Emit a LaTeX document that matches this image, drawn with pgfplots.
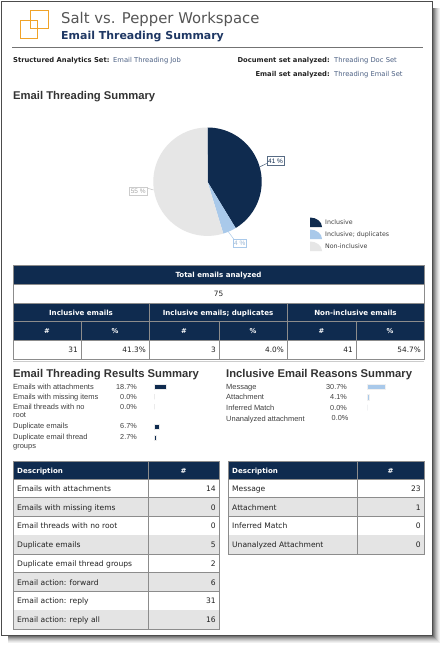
\documentclass[border=0pt]{standalone}
\usepackage{pgfplots}
\pgfplotsset{compat=1.18}
\usepackage{fontspec}
\setmainfont{Liberation Sans}
\newfontfamily\tah{DejaVu Sans}
\definecolor{navy}{HTML}{0F2B4F}
\definecolor{lblue}{HTML}{A9C9EA}
\definecolor{lgray}{HTML}{E6E6E6}
\definecolor{rowgray}{HTML}{E4E4E4}
\definecolor{gridc}{HTML}{8C8C8C}
\definecolor{orng}{HTML}{F0A328}
\definecolor{titlegray}{HTML}{555555}
\definecolor{subnavy}{HTML}{1F3864}
\definecolor{txt}{HTML}{222222}
\newcommand{\fs}[1]{\fontsize{#1}{#1}\selectfont}
% pie data (percent)
\def\pInc{41.3}
\def\pDup{4.0}
\def\pNon{54.7}
\begin{document}
\begin{tikzpicture}[x=1bp,y=1bp]
\path[use as bounding box] (0,0) rectangle (444,-647);
\coordinate (pc) at (207.5,-181.7);
\coordinate (b1) at (154.5,-445);
\coordinate (b2) at (367,-445);
% shadow
\foreach \i/\c in {0/55,1/45,2/35,3/26,4/18,5/11,6/6}{
  \fill[black!\c] (433+\i,-8) rectangle (434+\i,-636-\i);
  \fill[black!\c] (8,-636-\i) rectangle (434+\i,-637-\i);
}
% page frame
\fill[white] (1.5,-1.5) rectangle (432.5,-635.5);
\draw[black!70,line width=1.4bp] (1.5,-1.5) rectangle (432.5,-635.5);
% logo
\draw[orng,line width=1.3bp] (30.7,-10.7) rectangle (48.3,-28.3);
\draw[orng,line width=1.3bp] (20.7,-20.7) rectangle (37.3,-38.3);
% titles
\node[anchor=base west,inner sep=0,text=titlegray] at (61,-24) {\tah\fs{14.9}Salt vs. Pepper Workspace};
\node[anchor=base west,inner sep=0,text=subnavy] at (61,-40) {\tah\bfseries\fs{11}Email Threading Summary};
\draw[black!55,line width=0.8bp] (12,-47.5) -- (423,-47.5);
% info rows
\node[anchor=base west,inner sep=0,text=txt] at (13,-63) {\tah\bfseries\fs{6.8}Structured Analytics Set:};
\node[anchor=base west,inner sep=0,text=subnavy!80] at (113,-63) {\tah\fs{6.8}Email Threading Job};
\node[anchor=base east,inner sep=0,text=txt] at (330,-63) {\tah\bfseries\fs{6.8}Document set analyzed:};
\node[anchor=base west,inner sep=0,text=subnavy!80] at (334,-63) {\tah\fs{6.8}Threading Doc Set};
\node[anchor=base east,inner sep=0,text=txt] at (330,-77) {\tah\bfseries\fs{6.8}Email set analyzed:};
\node[anchor=base west,inner sep=0,text=subnavy!80] at (334,-77) {\tah\fs{6.8}Threading Email Set};
% section title
\node[anchor=base west,inner sep=0,text=black!80] at (13,-100) {\bfseries\fs{11.3}Email Threading Summary};
% pie
\pgfmathsetmacro{\aA}{90-3.6*\pInc}
\pgfmathsetmacro{\aB}{\aA-3.6*\pDup}
\pgfmathsetmacro{\aC}{\aB-3.6*\pNon}
\begin{axis}[at={(pc)},anchor=center,scale only axis,width=108.4bp,height=108.4bp,
  xmin=-1,xmax=1,ymin=-1,ymax=1,hide axis,clip=false]
\addplot[fill=navy,draw=none,domain=90:\aA,samples=80] ({cos(x)},{sin(x)}) -- (0,0) -- cycle;
\addplot[fill=lblue,draw=none,domain=\aA:\aB,samples=20] ({cos(x)},{sin(x)}) -- (0,0) -- cycle;
\addplot[fill=lgray,draw=none,domain=\aB:\aC,samples=100] ({cos(x)},{sin(x)}) -- (0,0) -- cycle;
\end{axis}
% pie labels
\draw[navy!80,line width=0.5bp] (260,-166.7) -- (266.7,-163.5);
\node[draw=navy!70,line width=0.5bp,fill=white,inner sep=1.2bp,anchor=west,text=navy,minimum height=8.5bp] at (266.7,-161) {\fs{6.5}41 \%};
\draw[black!25,line width=0.5bp] (153.5,-190) -- (147,-188);
\node[draw=black!20,line width=0.5bp,fill=white,inner sep=1.2bp,anchor=east,text=black!35,minimum height=8.5bp] at (147,-191) {\fs{6.5}55 \%};
\draw[lblue,line width=0.5bp] (228.3,-231.7) -- (234,-239.5);
\node[draw=lblue,line width=0.5bp,fill=white,inner sep=1.2bp,anchor=west,text=lblue!90!black,minimum height=8.5bp] at (232.7,-243.3) {\fs{6.5}4 \%};
% pie legend
\foreach \yy/\c/\t in {-222/navy/Inclusive,-234/lblue/{Inclusive; duplicates},-246/lgray/Non-inclusive}{
  \fill[\c] (310,\yy-5) -- (310,\yy+4.5) arc (90:0:12 and 9.5) -- cycle;
  \node[anchor=base west,inner sep=0,text=black!75] at (325,\yy-2) {\tah\fs{6.3}\t};
}
% ===== Table 1 =====
\fill[navy] (13,-265) rectangle (424,-284);
\fill[white] (13,-284) rectangle (424,-303);
\fill[navy] (13,-303) rectangle (424,-340);
\fill[white] (13,-340) rectangle (424,-359);
\draw[gridc,line width=0.7bp] (13,-265) rectangle (424,-359);
\draw[gridc,line width=0.7bp] (13,-284) -- (424,-284) (13,-303) -- (424,-303) (13,-321.5) -- (424,-321.5) (13,-340) -- (424,-340);
\draw[gridc,line width=0.7bp] (149,-303) -- (149,-359) (287,-303) -- (287,-359);
\draw[gridc,line width=0.7bp] (81,-321.5) -- (81,-359) (219,-321.5) -- (219,-359) (356,-321.5) -- (356,-359);
\node[anchor=base,inner sep=0,text=white] at (218.5,-277) {\tah\bfseries\fs{7.1}Total emails analyzed};
\node[anchor=base,inner sep=0,text=txt] at (218.5,-296) {\tah\fs{7.4}75};
\node[anchor=base,inner sep=0,text=white] at (81,-315) {\tah\bfseries\fs{7.1}Inclusive emails};
\node[anchor=base,inner sep=0,text=white] at (218,-315) {\tah\bfseries\fs{7.1}Inclusive emails; duplicates};
\node[anchor=base,inner sep=0,text=white] at (355.5,-315) {\tah\bfseries\fs{7.1}Non-inclusive emails};
\foreach \cx in {47,184,321.5}{\node[anchor=base,inner sep=0,text=white] at (\cx,-333.5) {\tah\bfseries\fs{6.8}\#};}
\foreach \cx in {115,253,390}{\node[anchor=base,inner sep=0,text=white] at (\cx,-333.5) {\tah\bfseries\fs{6.8}\%};}
\foreach \rx/\t in {78/31,146/41.3\%,216/3,284/4.0\%,353/41,421/54.7\%}{
  \node[anchor=base east,inner sep=0,text=txt] at (\rx,-352.5) {\tah\fs{7.4}\t};}
% separator
\draw[black!20,line width=0.7bp] (13,-361) -- (424,-361);
% ===== Mini bar summaries =====
\node[anchor=base west,inner sep=0,text=black!80] at (13,-377.5) {\bfseries\fs{11.3}Email Threading Results Summary};
\node[anchor=base west,inner sep=0,text=black!80] at (226,-377.5) {\bfseries\fs{11.3}Inclusive Email Reasons Summary};
\foreach \yy/\t in {-389.5/Emails with attachments,-399.5/Emails with missing items,-409.5/Email threads with no,-417/root,-428.5/Duplicate emails,-439/Duplicate email thread,-448.5/groups}{
  \node[anchor=base west,inner sep=0,text=black!75] at (13,\yy) {\fs{7.5}\t};}
\foreach \yy/\t in {-389.5/18.7\%,-399.5/0.0\%,-409.5/0.0\%,-428.5/6.7\%,-439/2.7\%}{
  \node[anchor=base east,inner sep=0,text=black!75] at (137,\yy) {\fs{7.3}\t};}
\foreach \yy/\t in {-389.5/Message,-399.5/Attachment,-410/Inferred Match,-421.5/Unanalyzed attachment}{
  \node[anchor=base west,inner sep=0,text=black!75] at (226,\yy) {\fs{7.5}\t};}
\foreach \yy/\t in {-389.5/30.7\%,-399.5/4.1\%,-410/0.0\%}{
  \node[anchor=base east,inner sep=0,text=black!75] at (347,\yy) {\fs{7.3}\t};}
\node[anchor=base east,inner sep=0,text=black!75] at (348.5,-420.5) {\fs{7.3}0.0\%};
\begin{axis}[at={(b1)},anchor=south west,scale only axis,width=19.2bp,height=65bp,
  xmin=0,xmax=30,ymin=-445,ymax=-380,hide axis,clip=false,
  xbar,bar width=5bp]
\addplot[fill=navy,draw=black!8,line width=0.4bp] coordinates {(18.7,-386.8) (0,-396.5) (0,-406.5) (6.7,-427) (2.7,-437.5)};
\end{axis}
\begin{axis}[at={(b2)},anchor=south west,scale only axis,width=24bp,height=65bp,
  xmin=0,xmax=40,ymin=-445,ymax=-380,hide axis,clip=false,
  xbar,bar width=5.5bp]
\addplot[fill=lblue,draw=black!6,line width=0.4bp] coordinates {(30.7,-386.8) (4.1,-397.3) (0,-407.5)};
\end{axis}
% ===== Bottom tables =====
% left
\fill[navy] (13,-461) rectangle (219,-479);
\foreach \i/\t/\v in {0/Emails with attachments/14,1/Emails with missing items/0,2/Email threads with no root/0,3/Duplicate emails/5,4/Duplicate email thread groups/2,5/{Email action: forward}/6,6/{Email action: reply}/31,7/{Email action: reply all}/16}{
  \pgfmathsetmacro{\ya}{-479-18.75*\i}
  \pgfmathsetmacro{\yb}{\ya-18.75}
  \pgfmathtruncatemacro{\odd}{mod(\i,2)}
  \ifnum\odd=1 \fill[rowgray] (13,\ya) rectangle (219,\yb);\fi
  \draw[gridc,line width=0.7bp] (13,\yb) -- (219,\yb);
  \node[anchor=base west,inner sep=0,text=txt] at (17,\ya-12.3) {\tah\fs{7.6}\t};
  \node[anchor=base east,inner sep=0,text=txt] at (216,\ya-12.3) {\tah\fs{7.6}\v};
}
\draw[gridc,line width=0.8bp] (13,-461) rectangle (219,-629);
\draw[gridc,line width=0.7bp] (148,-461) -- (148,-629) (13,-479) -- (219,-479);
\node[anchor=base west,inner sep=0,text=white] at (17,-473.3) {\tah\bfseries\fs{7.1}Description};
\node[anchor=base,inner sep=0,text=white] at (183.5,-473.3) {\tah\bfseries\fs{7.1}\#};
% right
\fill[navy] (228,-461) rectangle (424,-479);
\foreach \i/\t/\v in {0/Message/23,1/Attachment/1,2/Inferred Match/0,3/Unanalyzed Attachment/0}{
  \pgfmathsetmacro{\ya}{-479-18.75*\i}
  \pgfmathsetmacro{\yb}{\ya-18.75}
  \pgfmathtruncatemacro{\odd}{mod(\i,2)}
  \ifnum\odd=1 \fill[rowgray] (228,\ya) rectangle (424,\yb);\fi
  \draw[gridc,line width=0.7bp] (228,\yb) -- (424,\yb);
  \node[anchor=base west,inner sep=0,text=txt] at (232,\ya-12.3) {\tah\fs{7.6}\t};
  \node[anchor=base east,inner sep=0,text=txt] at (421,\ya-12.3) {\tah\fs{7.6}\v};
}
\draw[gridc,line width=0.8bp] (228,-461) rectangle (424,-554);
\draw[gridc,line width=0.7bp] (357,-461) -- (357,-554) (228,-479) -- (424,-479);
\node[anchor=base west,inner sep=0,text=white] at (232,-473.3) {\tah\bfseries\fs{7.1}Description};
\node[anchor=base,inner sep=0,text=white] at (390.5,-473.3) {\tah\bfseries\fs{7.1}\#};
\end{tikzpicture}
\end{document}
